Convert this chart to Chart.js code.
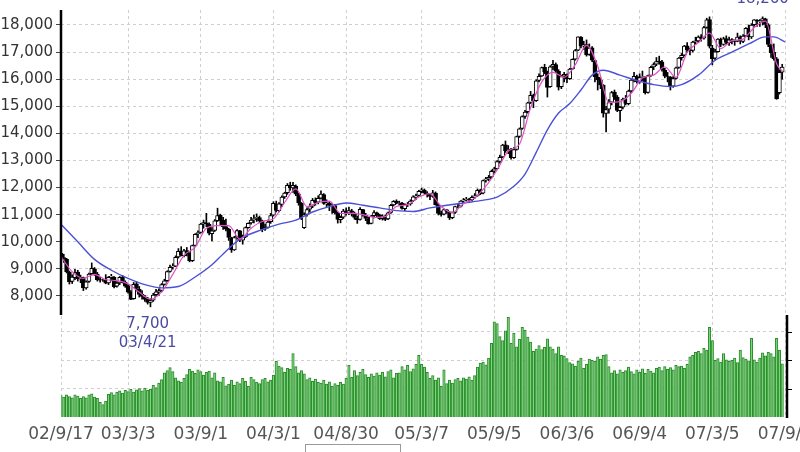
<!DOCTYPE html>
<html>
<head>
<meta charset="utf-8">
<script src="https://cdn.jsdelivr.net/npm/chart.js@4.4.0/dist/chart.umd.min.js"></script>
<style>
  html, body { margin: 0; padding: 0; background: #fff; }
</style>
</head>
<body>
<canvas id="chart" width="800" height="452"></canvas>
<script>
// weekly candles, 02/9/17 .. 07/8/27
const opens = [
  9570,9420,9350,8870,8540,8680,8880,8620,8680,8300,
  8540,8820,9000,8800,8610,8580,8600,8480,8700,8700,
  8360,8480,8700,8500,8380,8140,7900,8450,8250,8060,
  7970,7880,7760,7850,8050,8150,8210,8430,8570,8910,
  9070,9100,9440,9660,9490,9680,9540,9300,9870,10300,
  10350,10660,10700,10640,10300,10420,10780,10980,10800,10560,
  10460,10150,9700,10170,10400,10060,10180,10520,10700,10810,
  10870,10890,10760,10470,10530,10740,10980,11400,11150,11380,
  11660,11810,12090,11990,12060,11760,11430,10520,11010,11200,
  11310,11520,11460,11610,11740,11400,11430,11320,11340,11060,
  10820,10910,11140,11060,11140,11060,10880,10830,11190,10980,
  10850,10680,10960,11070,10990,10860,10940,10840,11080,11360,
  11490,11420,11430,11220,11390,11400,11510,11650,11710,11870,
  11910,11800,11730,11680,11800,11360,11050,11020,11180,11100,
  10890,11080,11300,11310,11510,11540,11570,11550,11650,11710,
  11910,11790,12270,12310,12390,12610,12700,12970,13130,13580,
  13350,13410,13100,13410,13890,14180,14630,14800,15140,15390,
  15210,15950,16120,16440,16260,15720,16470,16540,16290,15720,
  16110,16170,16020,16380,16740,17070,17550,17220,17280,16910,
  17160,16690,16080,15960,15780,14740,14890,15150,15520,15340,
  14840,14970,15280,15100,15570,15980,16100,15900,16070,16090,
  15510,16140,16450,16550,16660,16640,16340,16100,16080,15740,
  16030,16430,16790,16890,17230,17080,17060,17380,17410,17560,
  17510,17910,18200,17150,16780,17020,17470,17280,17500,17350,
  17460,17410,17400,17560,17390,17600,17890,17560,18010,18180,
  18130,18150,18230,18010,17270,16990,16750,15500,16260
];
const highs = [
  9650,9540,9390,8920,8780,8980,8950,8770,8700,8560,
  8850,9220,9050,8870,8700,8620,8790,8720,8800,8720,
  8530,8720,8760,8560,8420,8200,8500,8520,8350,8200,
  8020,7950,7900,8100,8250,8260,8460,8620,8930,9140,
  9190,9480,9750,9820,9720,9790,9600,9880,10300,10400,
  10680,10800,11050,10700,10520,10820,11240,11020,10900,10840,
  10500,10170,10200,10450,10420,10250,10550,10700,10900,10990,
  11030,10950,10800,10650,10800,11050,11480,11500,11450,11700,
  11830,12150,12200,12190,12100,11800,11450,11070,11250,11400,
  11600,11620,11700,11880,11780,11550,11480,11400,11380,11100,
  10950,11200,11250,11280,11200,11100,10950,11260,11200,11050,
  10900,10980,11150,11100,11020,11000,10990,11100,11380,11520,
  11550,11500,11460,11400,11450,11550,11700,11760,11900,11980,
  11950,11850,11780,11900,11840,11400,11130,11220,11200,11120,
  11100,11320,11400,11520,11600,11640,11600,11700,11780,11950,
  11940,12280,12380,12450,12650,12750,13000,13200,13600,13720,
  13550,13450,13480,13900,14200,14650,14850,15150,15550,15450,
  15980,16200,16450,16550,16300,16500,16700,16600,16350,16150,
  16250,16200,16400,16750,17100,17560,17570,17400,17450,17300,
  17200,16700,16200,16050,15800,15000,15250,15550,15600,15400,
  15000,15300,15400,15600,16000,16250,16150,16200,16300,16100,
  16150,16480,16600,16800,16850,16700,16400,16250,16100,16100,
  16450,16800,16950,17250,17350,17150,17400,17550,17600,17650,
  17950,18250,18300,17250,17100,17500,17520,17550,17600,17550,
  17500,17450,17700,17600,17650,17900,18000,18050,18200,18200,
  18200,18300,18250,18050,17300,17300,16800,16350,16550
];
const lows = [
  9330,9240,8850,8440,8460,8600,8550,8490,8200,8250,
  8500,8780,8760,8550,8510,8540,8450,8420,8560,8300,
  8330,8420,8480,8320,8100,7860,7880,8180,7960,7880,
  7800,7700,7600,7800,7990,8020,8150,8400,8540,8880,
  8990,9080,9400,9480,9440,9480,9260,9270,9850,10150,
  10320,10500,10560,10250,10030,10380,10750,10620,10460,10400,
  10050,9610,9680,10100,10000,9910,10150,10500,10650,10700,
  10750,10700,10370,10420,10500,10680,10950,11100,11100,11300,
  11600,11750,11900,11820,11700,11350,10820,10490,10950,11100,
  11260,11350,11400,11580,11380,11300,11150,11050,11020,10690,
  10700,10860,10980,11000,10950,10830,10680,10800,10950,10780,
  10650,10660,10880,10900,10820,10800,10780,10820,11050,11320,
  11400,11350,11200,11150,11300,11350,11480,11560,11680,11800,
  11750,11650,11550,11640,11350,10990,10950,10990,11050,10820,
  10850,11050,11250,11280,11450,11500,11450,11520,11600,11680,
  11740,11770,12200,12250,12350,12550,12680,12900,13100,13300,
  13250,13050,13080,13380,13850,14150,14550,14750,15100,14950,
  15180,15900,16100,16200,15340,15700,16350,16250,15600,15650,
  15900,15870,15990,16350,16700,17050,17150,17100,16850,16880,
  16650,15900,15600,15650,14600,14050,14750,15050,15250,14800,
  14440,14900,15050,15050,15500,15900,15850,15850,15950,15450,
  15480,16100,16350,16500,16550,16300,16050,15900,15600,15700,
  16000,16400,16700,16850,17000,16900,17000,17300,17350,17400,
  17480,17880,17150,16530,16700,17000,17200,17250,17300,17250,
  17300,17250,17380,17300,17350,17580,17450,17500,17950,17950,
  17950,18000,17900,17200,16800,16700,15260,15450,16000
];
const closes = [
  9400,9380,8900,8520,8700,8860,8640,8690,8300,8520,
  8810,9020,8810,8600,8580,8580,8470,8690,8730,8340,
  8480,8690,8510,8360,8140,7870,8430,8280,8060,7980,
  7870,7760,7830,8030,8150,8200,8420,8560,8900,9060,
  9100,9430,9650,9500,9670,9560,9300,9860,10280,10340,
  10650,10710,10670,10320,10400,10770,10970,10820,10560,10470,
  10160,9700,10160,10410,10080,10170,10520,10680,10800,10860,
  10900,10780,10460,10520,10730,10970,11420,11160,11400,11650,
  11800,12080,12000,12080,11760,11440,10850,11000,11190,11300,
  11530,11450,11600,11760,11420,11440,11340,11330,11070,10830,
  10900,11130,11050,11150,11080,10900,10820,11200,11000,10860,
  10660,10950,11080,11000,10850,10950,10830,11070,11350,11490,
  11430,11440,11230,11380,11390,11500,11660,11700,11860,11920,
  11810,11740,11670,11810,11370,11050,11010,11190,11120,10880,
  11080,11300,11300,11500,11550,11580,11560,11640,11700,11900,
  11780,12260,12320,12380,12600,12690,12960,13120,13570,13360,
  13420,13100,13400,13880,14170,14620,14790,15130,15400,15200,
  15940,16110,16430,16270,15700,16460,16550,16300,15710,16100,
  16180,16010,16370,16730,17060,17560,17230,17270,16900,17150,
  16700,16090,15970,15790,14750,14880,15140,15510,15350,14850,
  14960,15270,15110,15560,15970,16110,15910,16060,16100,15500,
  16130,16440,16540,16650,16650,16350,16110,16090,15730,16020,
  16420,16780,16880,17220,17090,17050,17370,17420,17550,17500,
  17900,18190,17220,16760,17010,17480,17290,17490,17360,17450,
  17400,17390,17550,17400,17590,17880,17570,18000,18190,18140,
  18140,18240,18020,17280,16980,16760,15270,16250,16450
];
const volume = [
  3.8,3.5,3.9,3.6,3.4,3.9,3.7,3.3,3.6,3.4,3.9,4.1,3.5,3.3,2.6,
  2.2,2.8,4.0,4.3,3.9,4.4,4.6,4.2,4.7,4.5,4.9,4.4,4.8,5.0,4.6,5.1,4.7,4.9,
  5.6,5.2,6.0,6.6,7.8,8.2,8.7,8.0,6.9,6.4,6.1,6.8,7.5,
  8.4,8.1,7.7,8.3,8.0,7.4,7.9,8.1,6.9,7.8,6.4,6.2,7.0,5.5,5.8,
  6.5,5.6,6.2,5.9,6.8,6.3,5.4,7.0,6.6,6.1,5.9,6.6,6.8,6.2,6.5,
  7.4,9.8,9.0,8.7,7.9,8.6,8.4,11.2,8.9,7.8,8.2,
  7.6,6.6,6.9,6.3,6.7,6.1,6.0,6.5,5.8,6.2,5.4,5.9,5.6,6.1,5.8,
  6.8,9.1,7.0,8.2,7.3,7.9,8.4,7.5,7.0,7.6,7.2,7.8,7.4,7.9,7.1,8.0,8.3,6.9,7.7,
  7.8,8.9,8.3,9.1,8.0,8.5,9.3,10.9,
  9.3,8.8,7.9,6.8,7.3,6.5,6.9,5.4,8.3,5.9,6.5,6.0,
  6.6,6.8,6.4,6.9,6.7,7.1,6.5,7.3,8.8,9.5,9.7,9.2,
  10.4,13.0,16.8,16.5,14.2,13.5,15.2,17.6,13.0,14.8,12.4,13.7,15.8,15.3,14.1,13.2,11.6,12.0,12.6,
  11.9,12.3,13.8,12.4,12.0,11.2,12.4,10.9,10.8,10.3,9.6,9.4,9.0,9.8,
  10.4,8.6,9.3,10.2,10.0,9.8,10.6,10.2,10.9,11.0,8.9,7.8,8.2,7.6,8.3,
  7.9,8.2,8.8,8.0,7.6,8.3,7.9,8.5,7.7,8.4,8.1,7.8,8.6,8.8,8.2,8.9,8.4,8.7,8.3,9.1,8.9,9.0,8.6,9.3,10.6,
  10.9,11.4,11.6,11.2,12.1,11.8,15.8,13.5,
  10.0,10.3,9.7,11.2,10.1,9.8,10.0,10.4,9.6,11.8,10.5,10.2,9.9,13.9,10.1,9.7,10.4,11.3,10.8,11.4,11.2,10.6,13.9,11.8,9.4
];

// moving averages, [week index, value]
const maShort = [
  [0,9450],[4,8900],[8,8650],[12,8800],[16,8600],[20,8570],[24,8450],[28,8140],[32,7880],[36,8150],
  [40,8800],[44,9500],[48,9800],[52,10500],[56,10600],[60,10600],[64,10100],[68,10500],[72,10750],[76,10850],
  [80,11450],[84,11950],[88,11300],[92,11450],[96,11500],[100,11050],[104,11050],[108,11000],[112,10900],[116,10930],
  [120,11300],[124,11370],[128,11650],[132,11780],[136,11300],[140,11080],[144,11400],[148,11620],[152,12050],[156,12650],
  [160,13350],[164,13600],[168,14950],[172,15900],[176,16250],[180,16070],[184,16540],[188,17250],[192,16480],[196,15140],
  [200,15170],[204,15480],[208,16040],[212,16150],[216,16450],[220,16070],[224,16990],[228,17350],[232,17700],[236,17130],
  [240,17420],[244,17480],[248,17910],[252,18140],[256,16570],[258,16300]
];
const maLong = [
  [0,10650],[6,10000],[12,9350],[18,8950],[24,8650],[30,8420],[36,8300],[42,8350],[48,8700],[54,9150],
  [58,9550],[64,10100],[72,10450],[78,10650],[84,10800],[90,11100],[96,11300],[102,11430],[108,11350],[114,11250],
  [120,11150],[126,11120],[132,11250],[138,11350],[144,11430],[150,11520],[156,11650],[162,12050],[166,12500],[170,13300],
  [174,14130],[178,14750],[182,15100],[186,15600],[190,16150],[194,16330],[200,16150],[206,15950],[212,15800],[218,15730],
  [222,15800],[228,16150],[234,16700],[240,17000],[246,17300],[252,17560],[255,17560],[259,17380]
];

const tickLabels = ['02/9/17', '03/3/3', '03/9/1', '04/3/1', '04/8/30', '05/3/7', '05/9/5', '06/3/6', '06/9/4', '07/3/5', '07/9/3'];
const priceTicks = [8000, 9000, 10000, 11000, 12000, 13000, 14000, 15000, 16000, 17000, 18000];
const volumeTicks = [5, 10, 15];
const lowMark = { week: '03/4/21', value: 7700, text: ['7,700', '03/4/21'] };
const highMark = { week: '07/7/9', value: 18260, text: '18,260' };

// Monday of every week, first one is the Tuesday after the holiday
const weeks = [];
for (let d = new Date(2002, 8, 16), i = 0; i < 260; i++, d.setDate(d.getDate() + 7)) {
  weeks.push(`${String(d.getFullYear()).slice(2)}/${d.getMonth() + 1}/${d.getDate()}`);
}
weeks[0] = '02/9/17';

const toSeries = (points) => {
  const out = new Array(weeks.length).fill(null);
  points.forEach(([i, v]) => { out[i] = v; });
  return out;
};

const volumePanelTop = 18;
const labelFont = "'DejaVu Sans', sans-serif";
const markColor = '#4a4aa0';

const frame = {
  id: 'frame',
  afterDraw(chart) {
    const { ctx, chartArea: a, scales: { x, y, yVol } } = chart;
    const split = yVol.getPixelForValue(volumePanelTop);
    ctx.save();
    ctx.strokeStyle = '#000';
    ctx.lineWidth = 2.5;
    ctx.beginPath();
    ctx.moveTo(a.left, a.top);
    ctx.lineTo(a.left, split);
    ctx.moveTo(a.right + 2, split);
    ctx.lineTo(a.right + 2, a.bottom + 1);
    ctx.stroke();
    ctx.lineWidth = 1;
    ctx.beginPath();
    volumeTicks.forEach(v => {
      const py = Math.round(yVol.getPixelForValue(v)) + 0.5;
      ctx.moveTo(a.right + 2, py);
      ctx.lineTo(a.right + 7, py);
    });
    ctx.stroke();

    ctx.fillStyle = markColor;
    ctx.font = `15px ${labelFont}`;
    ctx.textAlign = 'center';
    ctx.textBaseline = 'middle';
    const lx = x.getPixelForValue(weeks.indexOf(lowMark.week));
    const ly = y.getPixelForValue(lowMark.value);
    ctx.fillText(lowMark.text[0], lx, ly + 20);
    ctx.fillText(lowMark.text[1], lx, ly + 39);
    const hx = x.getPixelForValue(weeks.indexOf(highMark.week));
    ctx.textBaseline = 'bottom';
    ctx.fillText(highMark.text, hx, y.getPixelForValue(highMark.value) - 11);

    // the cut-off button under the axis
    ctx.strokeStyle = '#999';
    ctx.strokeRect(305.5, 444.5, 95, 20);
    ctx.restore();
  }
};

const candleFill = (ctx) => closes[ctx.dataIndex] >= opens[ctx.dataIndex] ? '#fff' : '#000';

new Chart(document.getElementById('chart'), {
  type: 'bar',
  data: {
    labels: weeks,
    datasets: [
      {
        type: 'line', data: toSeries(maShort), yAxisID: 'y', order: -2,
        borderColor: '#e050c8', borderWidth: 1.2, pointRadius: 0, spanGaps: true, cubicInterpolationMode: 'monotone'
      },
      {
        type: 'line', data: toSeries(maLong), yAxisID: 'y', order: -1,
        borderColor: '#4b50d8', borderWidth: 1.4, pointRadius: 0, spanGaps: true, cubicInterpolationMode: 'monotone'
      },
      {
        data: opens.map((o, i) => [o, closes[i]]), yAxisID: 'y', order: 0, grouped: false,
        backgroundColor: candleFill, borderColor: '#000', borderWidth: 1, borderSkipped: false, barThickness: 4
      },
      {
        data: lows.map((l, i) => [l, highs[i]]), yAxisID: 'y', order: 1, grouped: false,
        backgroundColor: '#000', barThickness: 1
      },
      {
        data: volume, yAxisID: 'yVol', order: 2, grouped: false,
        backgroundColor: '#7fd47f', borderColor: '#2a8c2a', borderWidth: 1, barThickness: 2.5
      }
    ]
  },
  options: {
    responsive: false,
    animation: false,
    events: [],
    layout: { padding: { top: 10, left: 0, right: 0, bottom: 0 } },
    plugins: { legend: { display: false }, tooltip: { enabled: false } },
    scales: {
      x: {
        offset: false,
        grid: { color: '#cfcfcf', offset: false, drawTicks: false },
        border: { display: false, dash: [3, 3] },
        ticks: {
          autoSkip: false, maxRotation: 0, minRotation: 0, padding: 7,
          color: '#555', font: { family: labelFont, size: 17 },
          callback(v) { return weeks[v]; }
        },
        afterBuildTicks: (s) => { s.ticks = s.ticks.filter(t => tickLabels.includes(weeks[t.value])); },
        afterFit: (s) => { s.height = 35; s.paddingLeft = 0; s.paddingRight = 0; }
      },
      y: {
        position: 'left',
        min: 3535,
        max: 18553,
        grid: { color: '#cfcfcf', tickColor: '#444', tickLength: 5 },
        border: { display: false, dash: [3, 3] },
        ticks: {
          padding: 3, color: '#333', font: { family: labelFont, size: 15 },
          callback: (v) => v.toLocaleString('en-US')
        },
        afterBuildTicks: (s) => { s.ticks = priceTicks.map(v => ({ value: v })); },
        afterFit: (s) => { s.width = 61; s.paddingTop = 0; s.paddingBottom = 0; }
      },
      yVol: {
        position: 'right',
        min: 0,
        max: 71.8,
        grid: { color: '#cfcfcf', drawTicks: false },
        border: { display: false, dash: [3, 3] },
        ticks: { display: false },
        afterBuildTicks: (s) => { s.ticks = volumeTicks.map(v => ({ value: v })); },
        afterFit: (s) => { s.width = 15; s.paddingTop = 0; s.paddingBottom = 0; }
      }
    }
  },
  plugins: [frame]
});
</script>
</body>
</html>
